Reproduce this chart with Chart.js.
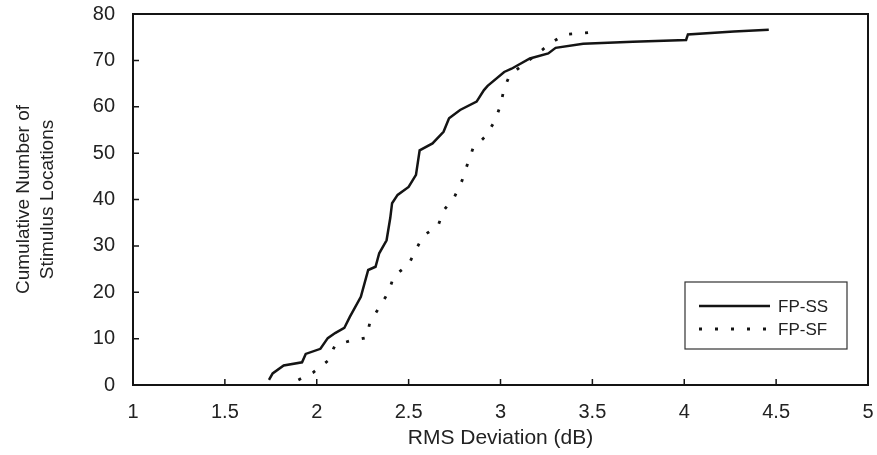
<!DOCTYPE html>
<html>
<head>
<meta charset="utf-8">
<script src="https://cdn.jsdelivr.net/npm/chart.js@4/dist/chart.umd.min.js"></script>
<style>
  html, body { margin: 0; padding: 0; background: #fff; }
  #wrap { width: 877px; height: 455px; }
</style>
</head>
<body>
<div id="wrap"><canvas id="cdf"></canvas></div>
<script>
// Series names (legend)
const seriesNames = ['FP-SS', 'FP-SF'];

// FP-SS (solid)
const ssX = [1.74, 1.76, 1.82, 1.92, 1.94, 2.02, 2.06, 2.10, 2.15, 2.18, 2.24, 2.28, 2.32, 2.34, 2.38,
             2.40, 2.41, 2.44, 2.50, 2.54, 2.56, 2.63, 2.69, 2.72, 2.78, 2.87, 2.91, 2.93, 3.02, 3.06,
             3.16, 3.26, 3.30, 3.45, 3.72, 4.01, 4.02, 4.27, 4.46];
const ssY = [1.1, 2.5, 4.2, 4.9, 6.7, 7.8, 10.1, 11.2, 12.3, 14.7, 19.0, 24.8, 25.5, 28.4, 31.2,
             36.0, 39.2, 41.0, 42.7, 45.3, 50.6, 52.1, 54.6, 57.5, 59.3, 61.1, 63.6, 64.5, 67.5, 68.2,
             70.4, 71.5, 72.7, 73.6, 74.0, 74.4, 75.6, 76.2, 76.6];

// FP-SF (dotted)
const sfX = [1.90, 1.98, 2.06, 2.10, 2.18, 2.27, 2.29, 2.34, 2.39, 2.42, 2.50, 2.54, 2.58, 2.66, 2.69,
             2.75, 2.79, 2.82, 2.85, 2.92, 2.97, 3.00, 3.02, 3.05, 3.28, 3.35, 3.43, 3.53];
const sfY = [1.1, 2.7, 5.2, 8.6, 9.5, 10.2, 13.6, 16.7, 20.0, 23.5, 26.0, 29.2, 32.2, 34.3, 37.6,
             40.6, 44.0, 47.6, 51.0, 53.7, 57.0, 60.3, 64.0, 66.8, 73.9, 75.6, 75.8, 76.2];

// Axis settings
const xMin = 1, xMax = 5, xStep = 0.5;
const yMin = 0, yMax = 80, yStep = 10;
const xTitle = 'RMS Deviation (dB)';
const yTitle = ['Cumulative Number of', 'Stimulus Locations'];

const ink = '#141414';
const font = 'Liberation Sans, Arial, sans-serif';

function toPoints(xs, ys) {
    return xs.map((x, i) => ({ x: x, y: ys[i] }));
}

// frame box, inward tick marks and boxed legend
const framePlugin = {
    id: 'frame',
    afterDraw(chart) {
        const { ctx, chartArea: a, scales } = chart;
        const xs = scales.x, ys = scales.y;
        ctx.save();
        ctx.strokeStyle = ink;
        ctx.lineWidth = 2;
        ctx.strokeRect(a.left, a.top, a.right - a.left, a.bottom - a.top);

        ctx.lineWidth = 1.5;
        ctx.beginPath();
        xs.ticks.forEach(t => {
            const px = xs.getPixelForValue(t.value);
            ctx.moveTo(px, a.bottom);
            ctx.lineTo(px, a.bottom - 6);
        });
        ys.ticks.forEach(t => {
            const py = ys.getPixelForValue(t.value);
            ctx.moveTo(a.left, py);
            ctx.lineTo(a.left + 6, py);
        });
        ctx.stroke();

        // legend box
        const bw = 162, bh = 67;
        const bx = a.right - 21 - bw, by = a.bottom - 36 - bh;
        ctx.fillStyle = '#fff';
        ctx.fillRect(bx, by, bw, bh);
        ctx.lineWidth = 1.2;
        ctx.strokeStyle = '#333';
        ctx.strokeRect(bx, by, bw, bh);

        chart.data.datasets.forEach((ds, i) => {
            const ly = by + 24 + i * 23;
            ctx.strokeStyle = ink;
            ctx.lineWidth = ds.borderWidth;
            ctx.setLineDash(ds.borderDash || []);
            ctx.beginPath();
            ctx.moveTo(bx + 14, ly);
            ctx.lineTo(bx + 85, ly);
            ctx.stroke();
            ctx.setLineDash([]);
            ctx.fillStyle = '#222';
            ctx.font = '17px ' + font;
            ctx.textBaseline = 'middle';
            ctx.fillText(ds.label, bx + 93, ly + 1);
        });
        ctx.restore();
    }
};

new Chart(document.getElementById('cdf'), {
    type: 'scatter',
    data: {
        datasets: [
            {
                label: seriesNames[0],
                data: toPoints(ssX, ssY),
                showLine: true,
                borderColor: ink,
                borderWidth: 2.5,
                pointRadius: 0,
                tension: 0
            },
            {
                label: seriesNames[1],
                data: toPoints(sfX, sfY),
                showLine: true,
                borderColor: ink,
                borderWidth: 2.8,
                borderDash: [3, 13],
                pointRadius: 0,
                tension: 0
            }
        ]
    },
    options: {
        responsive: true,
        maintainAspectRatio: false,
        animation: false,
        layout: { padding: { left: 0, right: 9, top: 14, bottom: 0 } },
        plugins: {
            legend: { display: false },
            tooltip: { enabled: false }
        },
        scales: {
            x: {
                type: 'linear',
                min: xMin,
                max: xMax,
                grid: { display: false },
                border: { display: false },
                ticks: {
                    stepSize: xStep,
                    color: '#222',
                    padding: 7,
                    maxRotation: 0,
                    font: { family: font, size: 20 },
                    callback: v => String(v)
                },
                title: {
                    display: true,
                    text: xTitle,
                    color: '#222',
                    padding: { top: 0, bottom: 4 },
                    font: { family: font, size: 21 }
                },
                afterFit(scale) {
                    scale.height = 70;
                    scale.paddingLeft = 0;
                    scale.paddingRight = 0;
                }
            },
            y: {
                type: 'linear',
                min: yMin,
                max: yMax,
                grid: { display: false },
                border: { display: false },
                ticks: {
                    stepSize: yStep,
                    color: '#222',
                    padding: 10,
                    font: { family: font, size: 20 }
                },
                title: {
                    display: true,
                    text: yTitle,
                    color: '#222',
                    padding: { top: 12, bottom: 0 },
                    font: { family: font, size: 19, lineHeight: 1.26 }
                },
                afterFit(scale) {
                    scale.width = 133;
                    scale.paddingTop = 0;
                    scale.paddingBottom = 0;
                }
            }
        }
    },
    plugins: [framePlugin]
});
</script>
</body>
</html>
